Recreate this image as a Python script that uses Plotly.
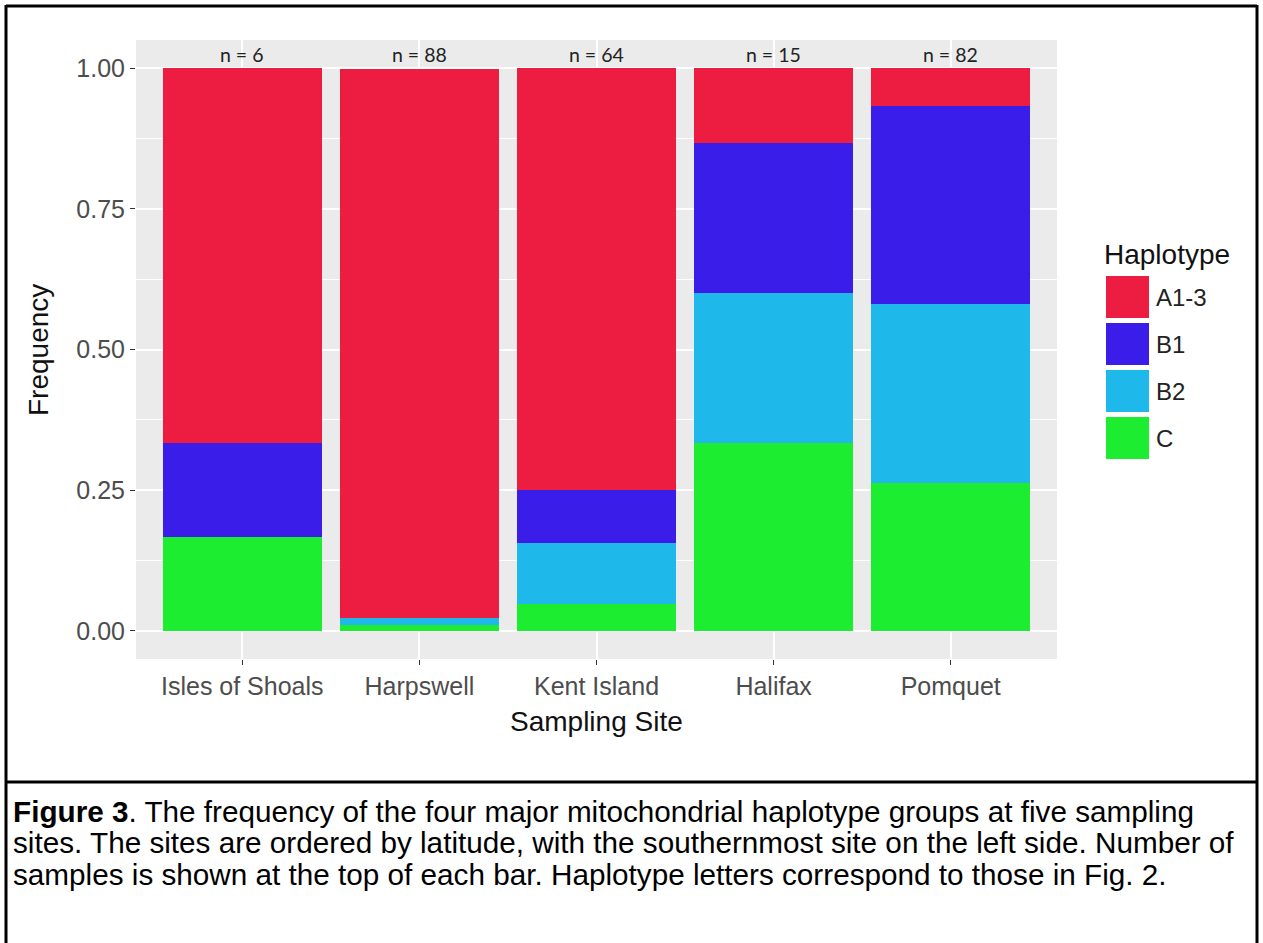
import plotly.graph_objects as go

sites = ["Isles of Shoals", "Harpswell", "Kent Island", "Halifax", "Pomquet"]
n_labels = ["n = 6", "n = 88", "n = 64", "n = 15", "n = 82"]
haplotypes = ["A1-3", "B1", "B2", "C"]
colors = ["#ED1D41", "#3B1DEA", "#1FB8EB", "#1DED30"]

freq_A13 = [0.667, 0.977, 0.750, 0.133, 0.067]
freq_B1 = [0.167, 0.000, 0.094, 0.267, 0.352]
freq_B2 = [0.000, 0.011, 0.109, 0.267, 0.319]
freq_C = [0.167, 0.011, 0.047, 0.333, 0.262]

series = {"A1-3": freq_A13, "B1": freq_B1, "B2": freq_B2, "C": freq_C}
color_map = dict(zip(haplotypes, colors))

y_ticks = [0, 0.25, 0.5, 0.75, 1.0]
y_ticktext = ["0.00", "0.25", "0.50", "0.75", "1.00"]

caption_lines = [
    "<b>Figure 3</b>. The frequency of the four major mitochondrial haplotype groups at five sampling",
    "sites. The sites are ordered by latitude, with the southernmost site on the left side. Number of",
    "samples is shown at the top of each bar. Haplotype letters correspond to those in Fig. 2.",
]

W, H = 1263, 943
L, R, T, B = 136, 1057, 40, 659  # plot panel in pixels

FONT = "Liberation Sans, Arial"


def px(x):
    return (x - L) / (R - L)


def py(y):
    return (B - y) / (B - T)


fig = go.Figure()
for h in reversed(haplotypes):
    fig.add_trace(go.Bar(
        x=sites, y=series[h], name=h, marker=dict(color=color_map[h], line=dict(width=0)),
        showlegend=False,
    ))

annotations = []
for s, lab in zip(sites, n_labels):
    annotations.append(dict(x=s, y=1.0, xref="x", yref="y", text=lab, showarrow=False,
                            yanchor="bottom", xanchor="center", yshift=0,
                            font=dict(family="Lato", size=19.5, color="#222222")))

# axis titles
annotations.append(dict(x=px(38), y=py(350), xref="paper", yref="paper", text="Frequency",
                        showarrow=False, textangle=-90, xanchor="center", yanchor="middle",
                        font=dict(family=FONT, size=28, color="#111111")))
annotations.append(dict(x=px(596), y=py(721), xref="paper", yref="paper", text="Sampling Site",
                        showarrow=False, xanchor="center", yanchor="middle",
                        font=dict(family=FONT, size=28, color="#111111")))

# legend (manual)
annotations.append(dict(x=px(1102), y=py(254), xref="paper", yref="paper", text="Haplotype",
                        showarrow=False, xanchor="left", yanchor="middle",
                        font=dict(family=FONT, size=28, color="#111111")))
shapes = []
sw_top = 276
for i, (h, c) in enumerate(zip(haplotypes, colors)):
    y0 = sw_top + i * 47
    shapes.append(dict(type="rect", xref="paper", yref="paper",
                       x0=px(1106), x1=px(1149), y0=py(y0), y1=py(y0 + 42),
                       fillcolor=c, line=dict(width=0)))
    annotations.append(dict(x=px(1154), y=py(y0 + 21), xref="paper", yref="paper", text=h,
                            showarrow=False, xanchor="left", yanchor="middle",
                            font=dict(family=FONT, size=24, color="#222222")))

# caption
for i, line in enumerate(caption_lines):
    annotations.append(dict(x=px(11), y=py(811 + i * 31.5), xref="paper", yref="paper", text=line,
                            showarrow=False, xanchor="left", yanchor="middle",
                            font=dict(family=FONT, size=29.7, color="#000000")))

# outer frame (open at the bottom edge) and separator
frame = dict(color="black", width=3)
shapes.append(dict(type="line", xref="paper", yref="paper", x0=px(6), x1=px(1257),
                   y0=py(6), y1=py(6), line=frame, layer="above"))
shapes.append(dict(type="line", xref="paper", yref="paper", x0=px(6), x1=px(6),
                   y0=py(5), y1=py(950), line=frame, layer="above"))
shapes.append(dict(type="line", xref="paper", yref="paper", x0=px(1257), x1=px(1257),
                   y0=py(5), y1=py(950), line=frame, layer="above"))
shapes.append(dict(type="line", xref="paper", yref="paper", x0=px(6), x1=px(1257),
                   y0=py(782), y1=py(782), line=frame))

fig.update_layout(
    width=W, height=H,
    margin=dict(l=L, r=W - R, t=T, b=H - B, pad=0),
    barmode="stack", bargap=0.1,
    plot_bgcolor="#EBEBEB", paper_bgcolor="white",
    showlegend=False,
    annotations=annotations, shapes=shapes,
    font=dict(family=FONT),
)
fig.update_xaxes(
    range=[-0.6, 4.6], showgrid=True, gridcolor="white", gridwidth=1.5,
    ticks="outside", ticklen=5, tickcolor="#333333", tickwidth=1.2,
    tickfont=dict(family=FONT, size=25, color="#4D4D4D"),
    showline=False, zeroline=False,
)
fig.update_yaxes(
    range=[-0.05, 1.05], tickvals=y_ticks, ticktext=y_ticktext,
    showgrid=True, gridcolor="white", gridwidth=1.5,
    minor=dict(dtick=0.125, tick0=0.125, showgrid=True, gridcolor="white", gridwidth=0.7, ticks=""),
    ticks="outside", ticklen=5, tickcolor="#333333", tickwidth=1.2,
    tickfont=dict(family=FONT, size=25, color="#4D4D4D"),
    showline=False, zeroline=False,
)

fig.write_html(
    "out.html",
    config={"displayModeBar": False},
    post_script="document.body.style.margin='0px';document.body.style.overflow='hidden';",
)
